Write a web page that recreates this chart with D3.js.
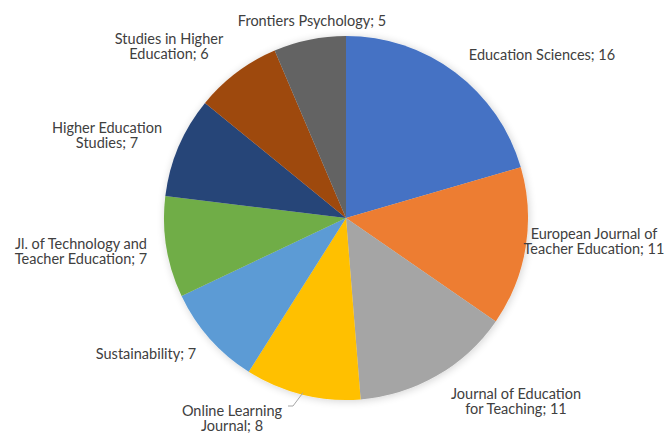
<!DOCTYPE html>
<html>
<head>
<meta charset="utf-8">
<script src="https://cdn.jsdelivr.net/npm/d3@7"></script>
<style>
html,body{margin:0;padding:0;background:#fff;}
svg{display:block;}
</style>
</head>
<body>
<svg id="chart" width="666" height="434"></svg>
<script>
// Data
const journals = [
  "Education Sciences",
  "European Journal of Teacher Education",
  "Journal of Education for Teaching",
  "Online Learning Journal",
  "Sustainability",
  "Jl. of Technology and Teacher Education",
  "Higher Education Studies",
  "Studies in Higher Education",
  "Frontiers Psychology"
];
const counts = [16, 11, 11, 8, 7, 7, 7, 6, 5];
const labelLines = [
  ["Education Sciences; 16"],
  ["European Journal of", "Teacher Education; 11"],
  ["Journal of Education", "for Teaching; 11"],
  ["Online Learning", "Journal; 8"],
  ["Sustainability; 7"],
  ["Jl. of Technology and", "Teacher Education; 7"],
  ["Higher Education", "Studies; 7"],
  ["Studies in Higher", "Education; 6"],
  ["Frontiers Psychology; 5"]
];
const colors = ["#4472C4","#ED7D31","#A5A5A5","#FFC000","#5B9BD5","#70AD47","#264478","#9E480E","#636363"];

// Layout (label block centres, first-line y), not data
const labelLayout = [
  [542, 55], [594, 234], [516, 394], [232, 411], [146, 354],
  [81, 244], [107, 128], [169, 39], [312, 21]
];

const svg = d3.select("#chart");
const cx = 346, cy = 218, r = 182;

const defs = svg.append("defs");
const f = defs.append("filter").attr("id","sh").attr("x","-20%").attr("y","-20%").attr("width","140%").attr("height","140%");
f.append("feGaussianBlur").attr("in","SourceAlpha").attr("stdDeviation",4).attr("result","b");
f.append("feOffset").attr("in","b").attr("dx",1).attr("dy",1).attr("result","o");
f.append("feComponentTransfer").attr("in","o").attr("result","t")
  .append("feFuncA").attr("type","linear").attr("slope",0.18);
const m = f.append("feMerge");
m.append("feMergeNode").attr("in","t");
m.append("feMergeNode").attr("in","SourceGraphic");

const color = d3.scaleOrdinal().domain(journals).range(colors);
const pie = d3.pie().sort(null).value((d,i)=>counts[i]);
const arcs = pie(journals);
const arc = d3.arc().innerRadius(0).outerRadius(r);

const g = svg.append("g").attr("transform",`translate(${cx},${cy})`);
g.append("g").attr("filter","url(#sh)")
  .selectAll("path").data(arcs).join("path")
  .attr("d", arc)
  .attr("fill", d=>color(d.data));

// leader line for Online Learning Journal
const ol = arcs[3];
const olAngle = (ol.startAngle + ol.endAngle)/2;
const ex = cx + (r-2)*Math.sin(olAngle), ey = cy - (r-2)*Math.cos(olAngle);
svg.append("polyline")
  .attr("points", `${288},${406} ${293},${406} ${ex},${ey}`)
  .attr("fill","none").attr("stroke","#a6a6a6").attr("stroke-width",1);

const lab = svg.append("g")
  .attr("font-family","Lato, 'Open Sans', sans-serif")
  .attr("font-size",14.5)
  .attr("fill","#404040")
  .attr("text-anchor","middle");
labelLines.forEach((lines,i)=>{
  const [x,y] = labelLayout[i];
  const t = lab.append("text").attr("x",x).attr("y",y);
  lines.forEach((ln,j)=>{
    t.append("tspan").attr("x",x).attr("dy", j===0 ? "0.35em" : "15").text(ln);
  });
});
</script>
</body>
</html>
